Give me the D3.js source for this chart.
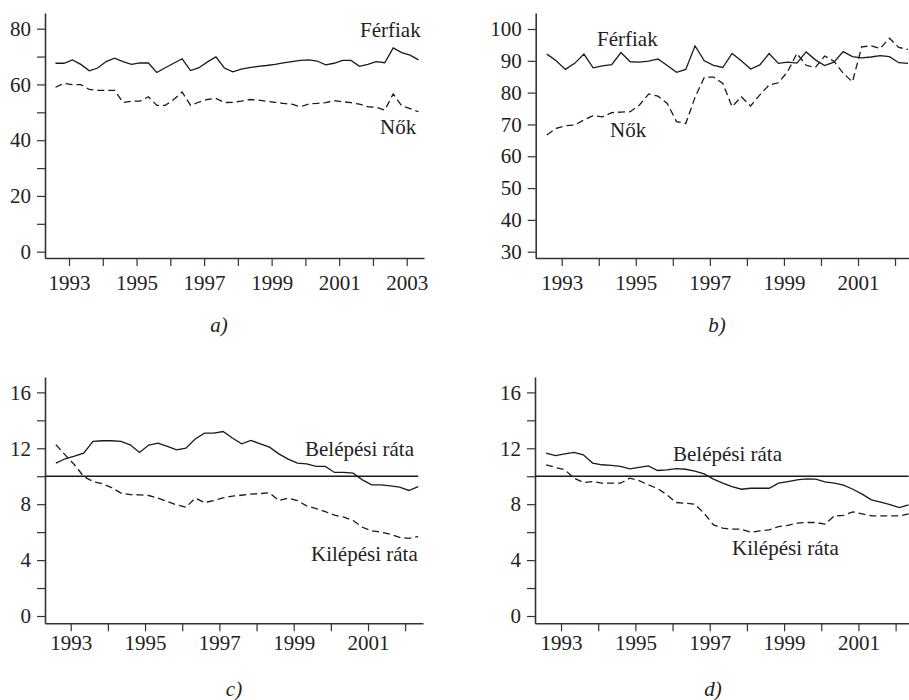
<!DOCTYPE html>
<html><head><meta charset="utf-8">
<script src="https://cdn.jsdelivr.net/npm/d3@7"></script>
<style>
body{margin:0;background:#fff}
svg{display:block}
text{font-family:"Liberation Serif","Times New Roman",serif;fill:#222}
</style>
</head><body>
<svg id="chart" width="909" height="700"></svg>
<script>
// ---- data (quarterly) ----
const quarters = ["1992Q3","1992Q4","1993Q1","1993Q2","1993Q3","1993Q4","1994Q1","1994Q2","1994Q3","1994Q4",
  "1995Q1","1995Q2","1995Q3","1995Q4","1996Q1","1996Q2","1996Q3","1996Q4","1997Q1","1997Q2",
  "1997Q3","1997Q4","1998Q1","1998Q2","1998Q3","1998Q4","1999Q1","1999Q2","1999Q3","1999Q4",
  "2000Q1","2000Q2","2000Q3","2000Q4","2001Q1","2001Q2","2001Q3","2001Q4","2002Q1","2002Q2",
  "2002Q3","2002Q4","2003Q1","2003Q2"];

// a) Férfiak / Nők
const menA = [67.6,67.6,68.8,67.2,64.9,65.9,68.2,69.4,68.2,67.2,67.7,67.7,64.3,66.0,67.6,69.2,65.0,66.0,68.1,69.9,
  65.9,64.5,65.5,66.0,66.5,66.8,67.2,67.7,68.2,68.6,68.8,68.4,67.0,67.6,68.6,68.6,66.5,67.2,68.2,67.8,73.1,71.4,70.5,68.8];
const womenA = [59.0,60.4,59.9,59.9,58.2,57.9,57.9,57.9,53.5,54.0,54.0,55.6,52.5,52.5,54.6,57.3,52.5,53.7,54.6,55.0,
  53.5,53.6,54.0,54.6,54.4,54.0,53.6,53.2,52.9,52.0,53.0,53.2,53.5,54.2,53.8,53.5,52.9,52.0,51.8,50.8,56.6,52.3,51.3,50.2];

// b) Férfiak / Nők
const menB = [92.1,90.0,87.3,89.2,92.1,87.8,88.4,88.8,92.6,89.7,89.6,89.9,90.6,88.5,86.4,87.3,94.7,90.0,88.6,87.9,
  92.3,90.0,87.4,88.7,92.3,89.2,89.6,89.3,92.8,90.3,88.5,89.6,92.9,91.3,90.9,91.2,91.6,91.3,89.4,89.2];
const womenB = [66.7,68.8,69.6,69.8,71.4,72.8,72.4,73.7,73.9,74.0,76.1,79.6,78.9,76.6,70.9,70.3,78.5,84.8,84.9,82.9,
  75.6,78.7,75.8,79.3,82.4,83.1,86.6,92.3,88.6,87.9,91.5,89.9,86.1,83.4,94.4,94.7,93.9,97.1,94.2,93.6];

// c) Belépési / Kilépési ráta
const entryC = [10.94,11.25,11.44,11.65,12.49,12.54,12.54,12.49,12.25,11.70,12.23,12.37,12.13,11.89,12.01,12.66,13.08,13.08,13.2,12.73,
  12.32,12.56,12.32,12.08,11.6,11.22,10.94,10.89,10.7,10.7,10.27,10.27,10.22,9.74,9.38,9.38,9.31,9.22,8.98,9.26];
const exitC = [12.25,11.53,10.82,9.98,9.62,9.46,9.19,8.79,8.69,8.67,8.62,8.43,8.19,7.95,7.78,8.43,8.12,8.26,8.45,8.57,
  8.64,8.72,8.76,8.81,8.26,8.43,8.26,7.88,7.69,7.47,7.21,7.07,6.83,6.35,6.09,5.99,5.85,5.63,5.56,5.68];

// d) Belépési / Kilépési ráta
const entryD = [11.65,11.48,11.6,11.7,11.53,10.94,10.82,10.77,10.7,10.53,10.63,10.74,10.41,10.46,10.55,10.5,10.36,10.17,9.79,9.5,
  9.26,9.07,9.14,9.14,9.14,9.5,9.62,9.74,9.81,9.79,9.6,9.5,9.36,9.07,8.72,8.31,8.14,7.97,7.76,7.95];
const exitD = [10.82,10.63,10.46,9.86,9.55,9.62,9.5,9.5,9.5,9.86,9.69,9.38,9.12,8.67,8.12,8.07,8.0,7.35,6.52,6.28,
  6.21,6.21,5.99,6.09,6.16,6.4,6.49,6.64,6.69,6.69,6.57,7.16,7.2,7.45,7.31,7.16,7.16,7.16,7.16,7.31];

const refLevel = 10;

// ticks
const yTicksA = [0,10,20,30,40,50,60,70,80];
const yLabelsA = [0,20,40,60,80];
const yTicksB = [30,40,50,60,70,80,90,100];
const yLabelsB = [30,40,50,60,70,80,90,100];
const yTicksC = [0,2,4,6,8,10,12,14,16];
const yLabelsC = [0,4,8,12,16];
const xTicksA = [1993,1994,1995,1996,1997,1998,1999,2000,2001,2002,2003];
const xTicksB = [1993,1994,1995,1996,1997,1998,1999,2000,2001,2002];
const xLabels = [1993,1995,1997,1999,2001,2003];

const seriesNames = {men:"Férfiak", women:"Nők", entry:"Belépési ráta", exit:"Kilépési ráta"};
const panelTags = ["a)","b)","c)","d)"];

// ---- drawing ----
const svg = d3.select("#chart");
const FS = 21;

function qTime(q){ const y = +q.slice(0,4), n = +q.slice(5); return y + (n-1)/4 + 0.1; }

const panels = [
  {box:{l:45,r:424,t:13,b:258}, xd:[1992.289,2003.512], yd:[-2.26,85.63],
   yTicks:yTicksA, yLabels:yLabelsA, xTicks:xTicksA, xBase:290,
   series:[{v:menA,dash:null},{v:womenA,dash:"7,4"}],
   labels:[{t:seriesNames.men,x:360,y:37},{t:seriesNames.women,x:380,y:134}],
   tag:panelTags[0], tagPos:[219,332], ref:false},
  {box:{l:535.7,r:909,t:13,b:258}, xd:[1992.298,2002.377], yd:[28.02,105.03],
   yTicks:yTicksB, yLabels:yLabelsB, xTicks:xTicksB, xBase:290,
   series:[{v:menB,dash:null},{v:womenB,dash:"7,4"}],
   labels:[{t:seriesNames.men,x:597,y:46},{t:seriesNames.women,x:610,y:137}],
   tag:panelTags[1], tagPos:[717,332], ref:false},
  {box:{l:45,r:423,t:377,b:623.3}, xd:[1992.308,2002.48], yd:[-0.523,17.10],
   yTicks:yTicksC, yLabels:yLabelsC, xTicks:xTicksB, xBase:650.5,
   series:[{v:entryC,dash:null},{v:exitC,dash:"7,4"}],
   labels:[{t:seriesNames.entry,x:305,y:456},{t:seriesNames.exit,x:311,y:561}],
   tag:panelTags[2], tagPos:[234,696], ref:true},
  {box:{l:535,r:909,t:377,b:623.3}, xd:[1992.30,2002.36], yd:[-0.523,17.10],
   yTicks:yTicksC, yLabels:yLabelsC, xTicks:xTicksB, xBase:650.5,
   series:[{v:entryD,dash:null},{v:exitD,dash:"7,4"}],
   labels:[{t:seriesNames.entry,x:673,y:461},{t:seriesNames.exit,x:732,y:555}],
   tag:panelTags[3], tagPos:[713,696], ref:true}
];

panels.forEach(p => {
  const x = d3.scaleLinear().domain(p.xd).range([p.box.l, p.box.r]);
  const y = d3.scaleLinear().domain(p.yd).range([p.box.b, p.box.t]);
  const g = svg.append("g");

  // y axis
  const ya = g.append("g").attr("transform", `translate(${p.box.l},0)`)
    .call(d3.axisLeft(y).tickValues(p.yTicks).tickSize(8).tickSizeOuter(0).tickPadding(6)
      .tickFormat(d => p.yLabels.includes(d) ? String(d) : ""));
  // x axis
  const xa = g.append("g").attr("transform", `translate(0,${p.box.b})`)
    .call(d3.axisBottom(x).tickValues(p.xTicks).tickSize(8).tickSizeOuter(0)
      .tickFormat(d => xLabels.includes(d) ? String(d) : ""));
  [ya, xa].forEach(a => {
    a.selectAll("path.domain").attr("stroke", "#333").attr("stroke-width", 1.6);
    a.selectAll(".tick line").attr("stroke", "#333").attr("stroke-width", 1.2);
    a.selectAll("text").attr("font-size", FS).attr("fill", "#222")
      .attr("font-family", '"Liberation Serif","Times New Roman",serif');
  });
  xa.selectAll(".tick text").attr("dy", null)
    .each(function(){ d3.select(this).attr("y", p.xBase - p.box.b); });

  // reference line
  const times = quarters.slice(0, p.series[0].v.length).map(qTime);
  if (p.ref) {
    g.append("line")
      .attr("x1", p.box.l).attr("x2", x(times[times.length-1]))
      .attr("y1", y(refLevel)).attr("y2", y(refLevel))
      .attr("stroke", "#1a1a1a").attr("stroke-width", 1.5);
  }

  // series
  const line = d3.line().x(d => x(d.t)).y(d => y(d.v));
  p.series.forEach(s => {
    const data = s.v.map((v,i) => ({t: times[i], v}));
    g.append("path").datum(data)
      .attr("d", line).attr("fill", "none")
      .attr("stroke", "#1a1a1a").attr("stroke-width", 1.3)
      .attr("stroke-dasharray", s.dash);
  });

  // series labels
  p.labels.forEach(l => {
    g.append("text").attr("x", l.x).attr("y", l.y).attr("font-size", FS).text(l.t);
  });

  // panel tag
  g.append("text").attr("x", p.tagPos[0]).attr("y", p.tagPos[1])
    .attr("text-anchor", "middle").attr("font-size", FS).attr("font-style", "italic").text(p.tag);
});
</script>
</body></html>
